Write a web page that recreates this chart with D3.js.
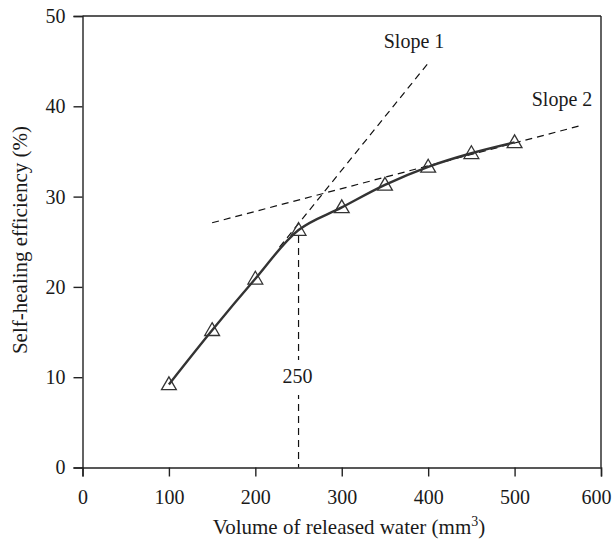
<!DOCTYPE html>
<html><head><meta charset="utf-8">
<script src="https://cdn.jsdelivr.net/npm/d3@7"></script>
<style>body{margin:0;background:#fff}svg{display:block}text{font-family:"Liberation Serif","Times New Roman",serif;fill:#1a1a1a}</style>
</head><body>
<svg id="c" width="613" height="541"></svg>
<script>
const volume = [100, 150, 200, 250, 300, 350, 400, 450, 500];
const efficiency = [9.2, 15.2, 20.9, 26.3, 28.8, 31.3, 33.3, 34.8, 36.0];
const xTicks = [0, 100, 200, 300, 400, 500, 600];
const yTicks = [0, 10, 20, 30, 40, 50];
const slope1 = [[228, 24.4], [401, 44.9]];
const slope2 = [[150, 27.1], [574, 37.8]];
const breakX = 250;

const svg = d3.select("#c");
const L = 82.5, R = 601, T = 16, B = 467.5;
const x = d3.scaleLinear().domain([0, 600]).range([L, R]);
const y = d3.scaleLinear().domain([0, 50]).range([B, T]);
const ink = "#222";
const FS = 20;

// frame (top, right)
svg.append("line").attr("x1", L).attr("x2", R).attr("y1", T).attr("y2", T).attr("stroke", ink).attr("stroke-width", 1.4);
svg.append("line").attr("x1", R).attr("x2", R).attr("y1", T).attr("y2", B).attr("stroke", ink).attr("stroke-width", 1.4);

const xa = svg.append("g").attr("transform", `translate(0,${B})`)
  .call(d3.axisBottom(x).tickValues(xTicks).tickSize(9).tickPadding(13).tickFormat(d3.format("d")));
const ya = svg.append("g").attr("transform", `translate(${L},0)`)
  .call(d3.axisLeft(y).tickValues(yTicks).tickSize(9).tickPadding(8).tickFormat(d3.format("d")));
[xa, ya].forEach(g => {
  g.select(".domain").attr("stroke", ink).attr("stroke-width", 1.4);
  g.selectAll(".tick line").attr("stroke", ink).attr("stroke-width", 1.4);
  g.selectAll(".tick text").attr("font-size", FS).attr("fill", "#1a1a1a")
   .style("font-family", '"Liberation Serif","Times New Roman",serif');
});
// keep the last x label inside the window
xa.selectAll(".tick text").filter(d => d === 600).attr("dx", -5);

// dashed helper lines
const dash = "7,5";
[slope1, slope2].forEach(s => {
  svg.append("line").attr("x1", x(s[0][0])).attr("y1", y(s[0][1]))
    .attr("x2", x(s[1][0])).attr("y2", y(s[1][1]))
    .attr("stroke", "#111").attr("stroke-width", 1.2).attr("stroke-dasharray", dash);
});
const bi = volume.indexOf(breakX);
svg.append("line").attr("x1", x(breakX)).attr("x2", x(breakX))
  .attr("y1", y(efficiency[bi]) + 6).attr("y2", B)
  .attr("stroke", "#111").attr("stroke-width", 1.2).attr("stroke-dasharray", dash);
const lbl = svg.append("g").attr("transform", `translate(${x(breakX)},383)`);
lbl.append("rect").attr("x", -18).attr("y", -23).attr("width", 36).attr("height", 35).attr("fill", "#fff");
lbl.append("text").attr("text-anchor", "middle").attr("x", -1).attr("font-size", FS).text("250");

// data curve
const line = d3.line().x((d, i) => x(volume[i])).y(d => y(d)).curve(d3.curveCatmullRom.alpha(0.5));
svg.append("path").datum(efficiency).attr("d", line).attr("fill", "none")
  .attr("stroke", "#333").attr("stroke-width", 2.4);

// triangle markers
const tri = d3.symbol().type(d3.symbolTriangle).size(95);
svg.selectAll(".pt").data(efficiency).join("path").attr("class", "pt")
  .attr("transform", (d, i) => `translate(${x(volume[i])},${y(d) + 1})`)
  .attr("d", tri).attr("fill", "none").attr("stroke", "#333").attr("stroke-width", 1.3);

// labels
svg.append("text").attr("x", 414).attr("y", 48).attr("text-anchor", "middle").attr("font-size", FS).text("Slope 1");
svg.append("text").attr("x", 562).attr("y", 106).attr("text-anchor", "middle").attr("font-size", FS).text("Slope 2");

// axis titles
const xt = svg.append("text").attr("x", 349).attr("y", 534).attr("text-anchor", "middle").attr("font-size", 21);
xt.append("tspan").text("Volume of released water (mm");
xt.append("tspan").attr("dy", -8).attr("font-size", 14).text("3");
xt.append("tspan").attr("dy", 8).text(")");
svg.append("text").attr("transform", `translate(27,240) rotate(-90)`)
  .attr("text-anchor", "middle").attr("font-size", 21).text("Self-healing efficiency (%)");
</script>
</body></html>
